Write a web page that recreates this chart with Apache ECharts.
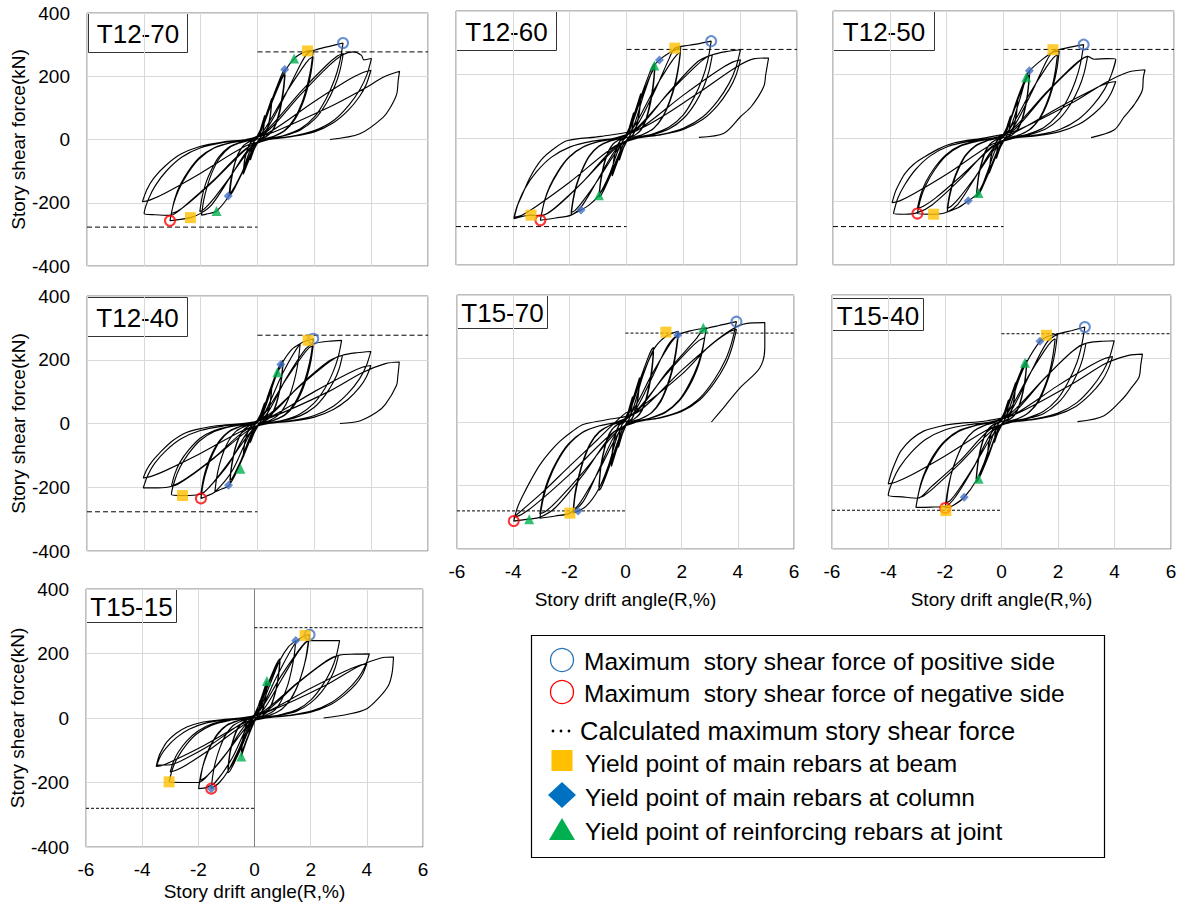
<!DOCTYPE html>
<html>
<head>
<meta charset="utf-8">
<title>Story shear force – story drift angle</title>
<script src="https://cdn.jsdelivr.net/npm/echarts@6/dist/echarts.min.js"></script>
<style>
  html, body { margin: 0; padding: 0; background: #fff; }
  #chart { width: 1185px; height: 906px; }
</style>
</head>
<body>
<div id="chart"></div>
<script>
// Specimen names, in drawing order
const panelNames = ['T12-70', 'T12-60', 'T12-50', 'T12-40', 'T15-70', 'T15-40', 'T15-15'];

// Axis ranges and tick steps
const xRange = [-6, 6], xStep = 2;
const yRange = [-400, 400], yStep = 200;

// Hysteresis loops: [drift angle R (%), story shear force (kN)]
const pathT1270 = [[0,0],
[0.12,37],[0.25,75],[0.23,45],[0.18,21],[0.11,6],[0.04,0],[-0.12,-32],[-0.25,-65],[-0.23,-39],[-0.18,-18],[-0.11,-5],[-0.04,0],
[0.25,65],[0.5,130],[0.45,78],[0.35,36],[0.23,10],[0.08,0],[-0.25,-55],[-0.5,-110],[-0.45,-66],[-0.35,-31],[-0.23,-9],[-0.08,0],
[0.25,60],[0.5,120],[0.45,72],[0.35,34],[0.23,10],[0.08,0],[-0.25,-52],[-0.5,-105],[-0.45,-63],[-0.35,-29],[-0.23,-8],[-0.08,0],
[0.1,22],[0.49,122],[0.78,190],[0.9,214],[0.97,221],[0.93,177],[0.87,137],[0.78,93],[0.65,53],[0.49,24],[0.29,9],[0.1,0],
[-0.1,-18],[-0.5,-98],[-0.8,-153],[-0.93,-173],[-1.0,-178],[-0.96,-142],[-0.9,-110],[-0.8,-75],[-0.67,-43],[-0.5,-20],[-0.3,-7],[-0.1,0],
[0.1,21],[0.49,113],[0.78,176],[0.9,199],[0.97,205],[0.93,164],[0.87,127],[0.78,86],[0.65,49],[0.49,23],[0.29,8],[0.1,0],
[-0.1,-17],[-0.49,-94],[-0.78,-146],[-0.9,-165],[-0.97,-170],[-0.93,-136],[-0.87,-105],[-0.78,-71],[-0.65,-41],[-0.49,-19],[-0.29,-7],[-0.1,0],
[0.1,22],[0.5,120],[0.9,205],[1.29,256],[1.7,278],[1.96,282],[1.88,226],[1.76,175],[1.57,118],[1.31,68],[0.98,31],[0.59,11],[0.2,0],
[-0.2,-25],[-0.55,-105],[-1.0,-178],[-1.44,-226],[-1.8,-236],[-1.97,-239],[-1.89,-191],[-1.77,-148],[-1.58,-100],[-1.32,-57],[-0.99,-26],[-0.59,-10],[-0.2,0],
[0.2,26],[0.98,144],[1.57,225],[1.82,254],[1.96,262],[1.88,210],[1.76,162],[1.57,110],[1.31,63],[0.98,29],[0.59,10],[0.2,0],
[-0.2,-23],[-1.02,-125],[-1.62,-196],[-1.89,-221],[-2.03,-228],[-1.95,-182],[-1.83,-141],[-1.62,-96],[-1.36,-55],[-1.02,-25],[-0.61,-9],[-0.2,0],
[0.3,30],[1.0,145],[1.5,235],[1.76,272],[2.1,285],[2.6,296],[3.01,305],[2.89,244],[2.71,189],[2.41,128],[2.02,73],[1.51,34],[0.9,12],[0.3,0],
[-0.3,-30],[-1.0,-125],[-1.6,-205],[-1.97,-232],[-2.36,-247],[-3.08,-257],[-2.96,-206],[-2.77,-159],[-2.46,-108],[-2.06,-62],[-1.54,-28],[-0.92,-10],[-0.31,0],
[0.3,27],[1.51,150],[2.42,234],[2.81,264],[3.02,272],[2.9,218],[2.72,169],[2.42,114],[2.02,65],[1.51,30],[0.91,11],[0.3,0],
[-0.3,-23],[-1.52,-129],[-2.42,-201],[-2.82,-227],[-3.03,-234],[-2.91,-187],[-2.73,-145],[-2.42,-98],[-2.03,-56],[-1.52,-26],[-0.91,-9],[-0.3,0],
[0.4,30],[1.5,140],[2.5,232],[3.0,268],[3.37,277],[3.66,266],[3.74,252],[4.01,256],[3.85,205],[3.61,159],[3.21,108],[2.69,61],[2.0,28],[1.2,10],[0.4,0],
[-0.4,-28],[-1.5,-125],[-2.5,-205],[-3.08,-240],[-3.6,-238],[-3.99,-234],[-3.83,-187],[-3.59,-145],[-3.19,-98],[-2.67,-56],[-2.0,-26],[-1.2,-9],[-0.4,0],
[0.4,22],[2.0,120],[3.19,188],[3.71,212],[3.99,219],[3.83,175],[3.59,136],[3.19,92],[2.67,53],[2.0,24],[1.2,9],[0.4,0],
[-0.4,-20],[-2.03,-108],[-3.24,-169],[-3.77,-191],[-4.05,-197],[-3.89,-158],[-3.65,-122],[-3.24,-83],[-2.71,-47],[-2.03,-22],[-1.22,-8],[-0.4,0],
[0.44,19],[1.5,60],[2.66,108],[3.84,165],[4.42,197],[5.0,216],[4.95,185],[4.9,144],[4.7,105],[4.42,70],[3.6,18],[2.55,0]];

const pathT1260 = [[0,0],
[0.12,40],[0.25,80],[0.23,48],[0.18,22],[0.11,6],[0.04,0],[-0.12,-35],[-0.25,-70],[-0.23,-42],[-0.18,-20],[-0.11,-6],[-0.04,0],
[0.25,70],[0.5,140],[0.45,84],[0.35,39],[0.23,11],[0.08,0],[-0.25,-60],[-0.5,-120],[-0.45,-72],[-0.35,-34],[-0.23,-10],[-0.08,0],
[0.25,65],[0.5,130],[0.45,78],[0.35,36],[0.23,10],[0.08,0],[-0.25,-57],[-0.5,-115],[-0.45,-69],[-0.35,-32],[-0.23,-9],[-0.08,0],
[0.1,24],[0.5,129],[0.8,202],[0.93,228],[1.0,235],[0.96,188],[0.9,146],[0.8,99],[0.67,56],[0.5,26],[0.3,9],[0.1,0],
[-0.1,-19],[-0.48,-102],[-0.77,-159],[-0.89,-179],[-0.96,-185],[-0.92,-148],[-0.86,-115],[-0.77,-78],[-0.64,-44],[-0.48,-20],[-0.29,-7],[-0.1,0],
[0.1,22],[0.5,121],[0.8,189],[0.93,213],[1.0,220],[0.96,176],[0.9,136],[0.8,92],[0.67,53],[0.5,24],[0.3,9],[0.1,0],
[-0.1,-18],[-0.48,-96],[-0.77,-151],[-0.89,-170],[-0.96,-175],[-0.92,-140],[-0.86,-109],[-0.77,-74],[-0.64,-42],[-0.48,-19],[-0.29,-7],[-0.1,0],
[0.2,25],[0.6,135],[0.98,228],[1.16,246],[1.5,268],[1.91,285],[1.83,228],[1.72,177],[1.53,120],[1.28,68],[0.96,31],[0.57,11],[0.19,0],
[-0.2,-22],[-0.6,-115],[-0.97,-180],[-1.3,-210],[-1.6,-227],[-1.95,-243],[-1.87,-194],[-1.76,-151],[-1.56,-102],[-1.31,-58],[-0.98,-27],[-0.59,-10],[-0.2,0],
[0.2,27],[0.95,149],[1.52,232],[1.77,262],[1.9,270],[1.82,216],[1.71,167],[1.52,113],[1.27,65],[0.95,30],[0.57,11],[0.19,0],
[-0.2,-23],[-0.98,-129],[-1.56,-202],[-1.81,-228],[-1.95,-235],[-1.87,-188],[-1.76,-146],[-1.56,-99],[-1.31,-56],[-0.98,-26],[-0.59,-9],[-0.2,0],
[0.3,30],[1.0,150],[1.5,250],[1.7,283],[2.2,292],[2.6,298],[2.98,305],[2.86,244],[2.68,189],[2.38,128],[2.0,73],[1.49,34],[0.89,12],[0.3,0],
[-0.3,-28],[-1.0,-130],[-1.6,-218],[-1.95,-243],[-2.5,-252],[-3.03,-259],[-2.91,-207],[-2.73,-161],[-2.42,-109],[-2.03,-62],[-1.52,-28],[-0.91,-10],[-0.3,0],
[0.3,26],[1.51,144],[2.42,225],[2.81,254],[3.02,262],[2.9,210],[2.72,162],[2.42,110],[2.02,63],[1.51,29],[0.91,10],[0.3,0],
[-0.3,-25],[-1.5,-135],[-2.4,-211],[-2.79,-238],[-3.0,-245],[-2.88,-196],[-2.7,-152],[-2.4,-103],[-2.01,-59],[-1.5,-27],[-0.9,-10],[-0.3,0],
[0.4,30],[1.5,145],[2.5,240],[3.02,262],[3.5,272],[4.01,278],[3.85,222],[3.61,172],[3.21,117],[2.69,67],[2.0,31],[1.2,11],[0.4,0],
[-0.4,-28],[-1.5,-135],[-2.5,-220],[-3.0,-245],[-3.36,-243],[-3.96,-254],[-3.8,-203],[-3.56,-157],[-3.17,-107],[-2.65,-61],[-1.98,-28],[-1.19,-10],[-0.4,0],
[0.4,25],[2.0,135],[3.21,212],[3.73,239],[4.01,246],[3.85,197],[3.61,153],[3.21,103],[2.69,59],[2.0,27],[1.2,10],[0.4,0],
[-0.4,-25],[-1.98,-138],[-3.17,-215],[-3.68,-243],[-3.96,-250],[-3.85,-215],[-3.7,-185],[-3.4,-125],[-3.0,-69],[-2.5,-30],[-2.07,-8],[-0.9,5],
[0.5,30],[2.5,140],[3.8,220],[4.5,250],[5.0,252],[4.9,200],[4.83,162],[4.4,100],[4.01,67],[3.43,15],[2.55,2]];

const pathT1250 = [[0,0],
[0.12,35],[0.25,70],[0.23,42],[0.18,20],[0.11,6],[0.04,0],[-0.12,-32],[-0.25,-65],[-0.23,-39],[-0.18,-18],[-0.11,-5],[-0.04,0],
[0.25,62],[0.5,125],[0.45,75],[0.35,35],[0.23,10],[0.08,0],[-0.25,-55],[-0.5,-110],[-0.45,-66],[-0.35,-31],[-0.23,-9],[-0.08,0],
[0.25,59],[0.5,118],[0.45,71],[0.35,33],[0.23,9],[0.08,0],[-0.25,-52],[-0.5,-105],[-0.45,-63],[-0.35,-29],[-0.23,-8],[-0.08,0],
[0.1,21],[0.46,117],[0.74,182],[0.86,206],[0.92,212],[0.88,170],[0.83,131],[0.74,89],[0.62,51],[0.46,23],[0.28,8],[0.09,0],
[-0.1,-19],[-0.48,-102],[-0.76,-159],[-0.88,-179],[-0.95,-185],[-0.91,-148],[-0.86,-115],[-0.76,-78],[-0.64,-44],[-0.48,-20],[-0.29,-7],[-0.1,0],
[0.1,20],[0.46,110],[0.74,172],[0.86,194],[0.92,200],[0.88,160],[0.83,124],[0.74,84],[0.62,48],[0.46,22],[0.28,8],[0.09,0],
[-0.1,-18],[-0.48,-96],[-0.76,-151],[-0.88,-170],[-0.95,-175],[-0.91,-140],[-0.86,-109],[-0.76,-74],[-0.64,-42],[-0.48,-19],[-0.29,-7],[-0.1,0],
[0.2,24],[0.55,115],[0.8,191],[0.92,212],[1.4,250],[1.74,270],[1.96,273],[1.88,218],[1.76,169],[1.57,115],[1.31,66],[0.98,30],[0.59,11],[0.2,0],
[-0.2,-22],[-0.6,-115],[-0.88,-173],[-1.24,-198],[-1.6,-220],[-1.98,-233],[-1.9,-186],[-1.78,-144],[-1.58,-98],[-1.33,-56],[-0.99,-26],[-0.59,-9],[-0.2,0],
[0.2,26],[0.95,144],[1.52,225],[1.77,254],[1.9,262],[1.82,210],[1.71,162],[1.52,110],[1.27,63],[0.95,29],[0.57,10],[0.19,0],
[-0.2,-22],[-0.99,-122],[-1.58,-191],[-1.84,-215],[-1.98,-222],[-1.9,-178],[-1.78,-138],[-1.58,-93],[-1.33,-53],[-0.99,-24],[-0.59,-9],[-0.2,0],
[0.3,28],[1.0,145],[1.5,240],[1.74,272],[2.2,283],[2.82,294],[2.71,235],[2.54,182],[2.26,123],[1.89,71],[1.41,32],[0.85,12],[0.28,0],
[-0.3,-26],[-1.0,-125],[-1.6,-208],[-1.98,-233],[-2.46,-240],[-3.03,-238],[-2.91,-190],[-2.73,-148],[-2.42,-100],[-2.03,-57],[-1.52,-26],[-0.91,-10],[-0.3,0],
[0.3,26],[1.48,141],[2.37,221],[2.75,249],[2.96,257],[2.84,206],[2.66,159],[2.37,108],[1.98,62],[1.48,28],[0.89,10],[0.3,0],
[-0.3,-22],[-1.52,-122],[-2.42,-191],[-2.82,-215],[-3.03,-222],[-2.91,-178],[-2.73,-138],[-2.42,-93],[-2.03,-53],[-1.52,-24],[-0.91,-9],[-0.3,0],
[0.4,28],[1.5,140],[2.5,228],[2.96,257],[3.19,248],[3.66,250],[3.95,248],[3.79,198],[3.56,154],[3.16,104],[2.65,60],[1.98,27],[1.19,10],[0.4,0],
[-0.4,-26],[-1.5,-128],[-2.5,-210],[-3.03,-235],[-3.5,-240],[-3.87,-238],[-3.72,-190],[-3.48,-148],[-3.1,-100],[-2.59,-57],[-1.94,-26],[-1.16,-10],[-0.39,0],
[0.4,18],[1.98,98],[3.16,153],[3.67,173],[3.95,178],[3.79,142],[3.56,110],[3.16,75],[2.65,43],[1.98,20],[1.19,7],[0.4,0],
[-0.4,-20],[-1.96,-112],[-3.14,-175],[-3.65,-198],[-3.92,-204],[-3.8,-168],[-3.65,-140],[-3.47,-112],[-3.15,-82],[-2.77,-59],[-2.3,-35],[-1.72,-15],[-0.55,2],
[0.5,25],[2.5,115],[3.6,175],[4.4,208],[4.98,215],[4.92,190],[4.89,152],[4.6,105],[4.25,67],[3.89,25],[3.08,1]];

const pathT1240 = [[0,0],
[0.12,32],[0.25,65],[0.23,39],[0.18,18],[0.11,5],[0.04,0],[-0.12,-30],[-0.25,-60],[-0.23,-36],[-0.18,-17],[-0.11,-5],[-0.04,0],
[0.25,57],[0.5,115],[0.45,69],[0.35,32],[0.23,9],[0.08,0],[-0.25,-52],[-0.5,-105],[-0.45,-63],[-0.35,-29],[-0.23,-8],[-0.08,0],
[0.25,54],[0.5,108],[0.45,65],[0.35,30],[0.23,9],[0.08,0],[-0.25,-50],[-0.5,-100],[-0.45,-60],[-0.35,-28],[-0.23,-8],[-0.08,0],
[0.1,20],[0.45,109],[0.72,170],[0.84,192],[0.9,198],[0.86,158],[0.81,123],[0.72,83],[0.6,48],[0.45,22],[0.27,8],[0.09,0],
[-0.1,-19],[-0.49,-102],[-0.78,-160],[-0.9,-180],[-0.97,-186],[-0.93,-149],[-0.87,-115],[-0.78,-78],[-0.65,-45],[-0.49,-20],[-0.29,-7],[-0.1,0],
[0.1,19],[0.45,103],[0.72,162],[0.84,182],[0.9,188],[0.86,150],[0.81,117],[0.72,79],[0.6,45],[0.45,21],[0.27,8],[0.09,0],
[-0.1,-18],[-0.49,-98],[-0.78,-153],[-0.9,-173],[-0.97,-178],[-0.93,-142],[-0.87,-110],[-0.78,-75],[-0.65,-43],[-0.49,-20],[-0.29,-7],[-0.1,0],
[0.15,22],[0.7,161],[0.9,195],[1.2,232],[1.5,250],[1.44,200],[1.35,155],[1.2,105],[1.0,60],[0.75,28],[0.45,10],[0.15,0],
[-0.15,-20],[-0.6,-120],[-1.0,-194],[-1.3,-207],[-1.5,-215],[-1.44,-172],[-1.35,-133],[-1.2,-90],[-1.0,-52],[-0.75,-24],[-0.45,-9],[-0.15,0],
[0.2,24],[0.9,160],[1.5,250],[1.78,261],[1.96,266],[1.88,213],[1.76,165],[1.57,112],[1.31,64],[0.98,29],[0.59,11],[0.2,0],
[-0.2,-22],[-0.9,-150],[-1.5,-215],[-1.8,-228],[-1.99,-235],[-1.91,-188],[-1.79,-146],[-1.59,-99],[-1.33,-56],[-1.0,-26],[-0.6,-9],[-0.2,0],
[0.2,25],[0.98,135],[1.57,211],[1.82,238],[1.96,245],[1.88,196],[1.76,152],[1.57,103],[1.31,59],[0.98,27],[0.59,10],[0.2,0],
[-0.2,-22],[-1.0,-121],[-1.59,-189],[-1.85,-213],[-1.99,-220],[-1.91,-176],[-1.79,-136],[-1.59,-92],[-1.33,-53],[-1.0,-24],[-0.6,-9],[-0.2,0],
[0.3,26],[1.0,140],[1.7,235],[1.96,250],[2.5,258],[2.96,261],[2.84,209],[2.66,162],[2.37,110],[1.98,63],[1.48,29],[0.89,10],[0.3,0],
[-0.3,-22],[-1.0,-125],[-1.7,-200],[-1.99,-222],[-2.64,-226],[-3.03,-223],[-2.91,-178],[-2.73,-138],[-2.42,-94],[-2.03,-54],[-1.52,-25],[-0.91,-9],[-0.3,0],
[0.3,21],[1.5,118],[2.39,184],[2.78,208],[2.99,214],[2.87,171],[2.69,133],[2.39,90],[2.0,51],[1.5,24],[0.9,9],[0.3,0],
[-0.3,-20],[-1.52,-108],[-2.42,-169],[-2.82,-191],[-3.03,-197],[-2.91,-158],[-2.73,-122],[-2.42,-83],[-2.03,-47],[-1.52,-22],[-0.91,-8],[-0.3,0],
[0.4,23],[1.5,120],[2.5,195],[2.99,214],[3.5,222],[3.99,226],[3.83,181],[3.59,140],[3.19,95],[2.67,54],[2.0,25],[1.2,9],[0.4,0],
[-0.4,-20],[-1.5,-105],[-2.5,-172],[-3.03,-197],[-3.5,-202],[-4.02,-202],[-3.86,-162],[-3.62,-125],[-3.22,-85],[-2.69,-48],[-2.01,-22],[-1.21,-8],[-0.4,0],
[0.4,18],[2.0,100],[3.19,157],[3.71,177],[3.99,182],[3.83,146],[3.59,113],[3.19,76],[2.67,44],[2.0,20],[1.2,7],[0.4,0],
[-0.4,-17],[-2.01,-94],[-3.22,-147],[-3.74,-166],[-4.02,-171],[-3.9,-145],[-3.7,-118],[-3.44,-92],[-3.0,-55],[-2.5,-28],[-1.9,-14],[-1.44,-7],[-0.27,3],
[0.5,20],[2.5,100],[3.7,160],[4.5,188],[4.99,193],[4.94,150],[4.89,119],[4.5,60],[4.19,35],[3.6,8],[2.9,0]];

const pathT1570 = [[0,0],
[0.12,40],[0.25,80],[0.23,48],[0.18,22],[0.11,6],[0.04,0],[-0.12,-40],[-0.25,-80],[-0.23,-48],[-0.18,-22],[-0.11,-6],[-0.04,0],
[0.25,70],[0.5,140],[0.45,84],[0.35,39],[0.23,11],[0.08,0],[-0.25,-70],[-0.5,-140],[-0.45,-84],[-0.35,-39],[-0.23,-11],[-0.08,0],
[0.25,65],[0.5,130],[0.45,78],[0.35,36],[0.23,10],[0.08,0],[-0.25,-65],[-0.5,-130],[-0.45,-78],[-0.35,-36],[-0.23,-10],[-0.08,0],
[0.1,24],[0.5,129],[0.8,202],[0.93,228],[1.0,235],[0.96,188],[0.9,146],[0.8,99],[0.67,56],[0.5,26],[0.3,9],[0.1,0],
[-0.1,-22],[-0.48,-118],[-0.76,-185],[-0.88,-209],[-0.95,-215],[-0.91,-172],[-0.86,-133],[-0.76,-90],[-0.64,-52],[-0.48,-24],[-0.29,-9],[-0.1,0],
[0.1,22],[0.5,121],[0.8,189],[0.93,213],[1.0,220],[0.96,176],[0.9,136],[0.8,92],[0.67,53],[0.5,24],[0.3,9],[0.1,0],
[-0.1,-21],[-0.48,-113],[-0.76,-176],[-0.88,-199],[-0.95,-205],[-0.91,-164],[-0.86,-127],[-0.76,-86],[-0.64,-49],[-0.48,-23],[-0.29,-8],[-0.1,0],
[0.2,25],[0.6,140],[1.0,228],[1.44,270],[1.88,286],[1.8,229],[1.69,177],[1.5,120],[1.26,69],[0.94,31],[0.56,11],[0.19,0],
[-0.2,-25],[-0.6,-135],[-0.95,-210],[-1.4,-265],[-1.86,-287],[-1.79,-230],[-1.67,-178],[-1.49,-121],[-1.25,-69],[-0.93,-32],[-0.56,-11],[-0.19,0],
[0.2,27],[0.94,150],[1.5,234],[1.75,264],[1.88,272],[1.8,218],[1.69,169],[1.5,114],[1.26,65],[0.94,30],[0.56,11],[0.19,0],
[-0.2,-28],[-0.93,-151],[-1.49,-237],[-1.73,-267],[-1.86,-275],[-1.79,-220],[-1.67,-171],[-1.49,-116],[-1.25,-66],[-0.93,-30],[-0.56,-11],[-0.19,0],
[0.3,30],[1.0,150],[1.5,240],[1.86,274],[2.3,287],[2.88,297],[2.76,238],[2.59,184],[2.3,125],[1.93,71],[1.44,33],[0.86,12],[0.29,0],
[-0.3,-30],[-1.0,-160],[-1.5,-250],[-1.98,-287],[-2.5,-296],[-3.05,-303],[-2.93,-242],[-2.75,-188],[-2.44,-127],[-2.04,-73],[-1.53,-33],[-0.92,-12],[-0.31,0],
[0.3,27],[1.41,146],[2.26,228],[2.62,257],[2.82,265],[2.71,212],[2.54,164],[2.26,111],[1.89,64],[1.41,29],[0.85,11],[0.28,0],
[-0.3,-29],[-1.53,-160],[-2.44,-249],[-2.84,-281],[-3.05,-290],[-2.93,-232],[-2.75,-180],[-2.44,-122],[-2.04,-70],[-1.53,-32],[-0.92,-12],[-0.31,0],
[0.4,32],[1.5,160],[2.5,260],[2.77,290],[3.3,303],[3.95,316],[3.79,253],[3.56,196],[3.16,133],[2.65,76],[1.98,35],[1.19,13],[0.4,0],
[-0.4,-31],[-1.5,-165],[-2.5,-270],[-3.05,-300],[-3.43,-306],[-3.98,-312],[-3.85,-270],[-3.64,-229],[-3.35,-180],[-3.05,-135],[-2.7,-95],[-2.34,-61],[-1.9,-30],[-1.51,-8],[-0.68,7],
[0.4,29],[1.98,161],[3.16,251],[3.67,283],[3.95,292],[3.79,234],[3.56,181],[3.16,123],[2.65,70],[1.98,32],[1.19,12],[0.4,0],
[-0.4,-30],[-1.99,-165],[-3.18,-258],[-3.7,-291],[-3.98,-300],[-3.0,-225],[-2.0,-140],[-1.0,-56],[0.0,28],
[0.5,45],[2.0,150],[3.0,240],[3.95,300],[4.5,312],[4.96,313],[4.96,234],[4.78,170],[4.07,107],[3.48,44],[3.06,0]];

const pathT1540 = [[0,0],
[0.12,35],[0.25,70],[0.23,42],[0.18,20],[0.11,6],[0.04,0],[-0.12,-32],[-0.25,-65],[-0.23,-39],[-0.18,-18],[-0.11,-5],[-0.04,0],
[0.25,62],[0.5,125],[0.45,75],[0.35,35],[0.23,10],[0.08,0],[-0.25,-57],[-0.5,-115],[-0.45,-69],[-0.35,-32],[-0.23,-9],[-0.08,0],
[0.25,59],[0.5,118],[0.45,71],[0.35,33],[0.23,9],[0.08,0],[-0.25,-55],[-0.5,-110],[-0.45,-66],[-0.35,-31],[-0.23,-9],[-0.08,0],
[0.1,20],[0.45,107],[0.72,168],[0.84,189],[0.9,195],[0.86,156],[0.81,121],[0.72,82],[0.6,47],[0.45,21],[0.27,8],[0.09,0],
[-0.1,-19],[-0.45,-105],[-0.72,-163],[-0.84,-184],[-0.9,-190],[-0.86,-152],[-0.81,-118],[-0.72,-80],[-0.6,-46],[-0.45,-21],[-0.27,-8],[-0.09,0],
[0.1,19],[0.45,102],[0.72,159],[0.84,179],[0.9,185],[0.86,148],[0.81,115],[0.72,78],[0.6,44],[0.45,20],[0.27,7],[0.09,0],
[-0.1,-18],[-0.45,-99],[-0.72,-155],[-0.84,-175],[-0.9,-180],[-0.86,-144],[-0.81,-112],[-0.72,-76],[-0.6,-43],[-0.45,-20],[-0.27,-7],[-0.09,0],
[0.2,25],[0.6,130],[0.9,190],[1.36,254],[1.59,268],[1.98,278],[1.9,222],[1.78,172],[1.58,117],[1.33,67],[0.99,31],[0.59,11],[0.2,0],
[-0.2,-22],[-0.6,-125],[-0.9,-185],[-1.32,-237],[-1.7,-262],[-1.99,-271],[-1.91,-217],[-1.79,-168],[-1.59,-114],[-1.33,-65],[-1.0,-30],[-0.6,-11],[-0.2,0],
[0.2,26],[0.95,144],[1.52,225],[1.77,254],[1.9,262],[1.82,210],[1.71,162],[1.52,110],[1.27,63],[0.95,29],[0.57,10],[0.19,0],
[-0.2,-26],[-0.98,-140],[-1.56,-219],[-1.81,-247],[-1.95,-255],[-1.87,-204],[-1.76,-158],[-1.56,-107],[-1.31,-61],[-0.98,-28],[-0.59,-10],[-0.2,0],
[0.3,30],[1.0,150],[1.6,250],[1.98,276],[2.5,288],[2.95,299],[2.83,239],[2.66,185],[2.36,126],[1.98,72],[1.48,33],[0.89,12],[0.3,0],
[-0.3,-27],[-1.0,-145],[-1.6,-232],[-1.99,-266],[-2.5,-268],[-3.03,-269],[-2.91,-215],[-2.73,-167],[-2.42,-113],[-2.03,-65],[-1.52,-30],[-0.91,-11],[-0.3,0],
[0.3,25],[1.5,136],[2.39,213],[2.78,241],[2.99,248],[2.87,198],[2.69,154],[2.39,104],[2.0,60],[1.5,27],[0.9,10],[0.3,0],
[-0.3,-24],[-1.49,-132],[-2.38,-206],[-2.76,-233],[-2.97,-240],[-2.85,-192],[-2.67,-149],[-2.38,-101],[-1.99,-58],[-1.49,-26],[-0.89,-10],[-0.3,0],
[0.4,26],[1.5,135],[2.5,222],[2.99,248],[3.5,254],[3.99,256],[3.83,205],[3.59,159],[3.19,108],[2.67,61],[2.0,28],[1.2,10],[0.4,0],
[-0.4,-23],[-1.5,-125],[-2.5,-205],[-2.97,-240],[-3.5,-236],[-4.01,-231],[-3.85,-185],[-3.61,-143],[-3.21,-97],[-2.69,-55],[-2.01,-25],[-1.2,-9],[-0.4,0],
[0.4,21],[1.97,113],[3.14,177],[3.65,200],[3.93,206],[3.77,165],[3.54,128],[3.14,87],[2.63,49],[1.97,23],[1.18,8],[0.39,0],
[-0.4,-20],[-2.0,-107],[-3.21,-168],[-3.73,-189],[-4.01,-195],[-3.9,-160],[-3.75,-125],[-3.56,-91],[-3.2,-55],[-2.74,-28],[-2.2,-14],[-1.68,-6],[-0.5,4],
[0.5,25],[2.5,120],[3.7,185],[4.5,210],[4.99,214],[4.93,180],[4.87,142],[4.6,108],[4.34,78],[3.63,20],[2.69,1]];

const pathT1515 = [[0,0],
[0.1,27],[0.2,55],[0.18,33],[0.14,15],[0.09,4],[0.03,0],[-0.1,-25],[-0.2,-50],[-0.18,-30],[-0.14,-14],[-0.09,-4],[-0.03,0],
[0.22,57],[0.44,115],[0.4,69],[0.31,32],[0.2,9],[0.07,0],[-0.23,-59],[-0.47,-119],[-0.42,-71],[-0.33,-33],[-0.21,-10],[-0.07,0],
[0.22,54],[0.44,108],[0.4,65],[0.31,30],[0.2,9],[0.07,0],[-0.23,-56],[-0.47,-112],[-0.42,-67],[-0.33,-31],[-0.21,-9],[-0.07,0],
[0.1,18],[0.46,101],[0.73,158],[0.85,178],[0.91,184],[0.87,147],[0.82,114],[0.73,77],[0.61,44],[0.46,20],[0.27,7],[0.09,0],
[-0.1,-17],[-0.48,-94],[-0.76,-146],[-0.88,-165],[-0.95,-170],[-0.91,-136],[-0.86,-105],[-0.76,-71],[-0.64,-41],[-0.48,-19],[-0.29,-7],[-0.1,0],
[0.1,18],[0.46,96],[0.73,151],[0.85,170],[0.91,175],[0.87,140],[0.82,109],[0.73,74],[0.61,42],[0.46,19],[0.27,7],[0.09,0],
[-0.1,-16],[-0.48,-88],[-0.76,-138],[-0.88,-155],[-0.95,-160],[-0.91,-128],[-0.86,-99],[-0.76,-67],[-0.64,-38],[-0.48,-18],[-0.29,-6],[-0.1,0],
[0.15,20],[0.6,115],[0.91,180],[1.2,220],[1.47,240],[1.41,192],[1.32,149],[1.18,101],[0.98,58],[0.74,26],[0.44,10],[0.15,0],
[-0.15,-18],[-0.6,-105],[-0.95,-165],[-1.25,-200],[-1.54,-219],[-1.48,-175],[-1.39,-136],[-1.23,-92],[-1.03,-53],[-0.77,-24],[-0.46,-9],[-0.15,0],
[0.2,24],[0.8,130],[1.47,235],[1.8,256],[1.96,258],[1.88,206],[1.76,160],[1.57,108],[1.31,62],[0.98,28],[0.59,10],[0.2,0],
[-0.2,-20],[-0.8,-125],[-1.4,-200],[-1.7,-215],[-1.99,-219],[-1.91,-175],[-1.79,-136],[-1.59,-92],[-1.33,-53],[-1.0,-24],[-0.6,-9],[-0.2,0],
[0.2,24],[0.96,132],[1.54,206],[1.79,233],[1.92,240],[1.84,192],[1.73,149],[1.54,101],[1.29,58],[0.96,26],[0.58,10],[0.19,0],
[-0.2,-19],[-0.97,-106],[-1.54,-166],[-1.79,-187],[-1.93,-193],[-1.85,-154],[-1.74,-120],[-1.54,-81],[-1.29,-46],[-0.97,-21],[-0.58,-8],[-0.19,0],
[0.3,24],[1.0,125],[1.6,210],[1.96,240],[2.5,240],[3.03,240],[2.91,192],[2.73,149],[2.42,101],[2.03,58],[1.52,26],[0.91,10],[0.3,0],
[-0.3,-20],[-1.0,-110],[-1.6,-172],[-1.99,-200],[-2.5,-200],[-3.04,-198],[-2.92,-158],[-2.74,-123],[-2.43,-83],[-2.04,-48],[-1.52,-22],[-0.91,-8],[-0.3,0],
[0.3,19],[1.5,107],[2.39,167],[2.78,188],[2.99,194],[2.87,155],[2.69,120],[2.39,81],[2.0,47],[1.5,21],[0.9,8],[0.3,0],
[-0.3,-17],[-1.5,-92],[-2.4,-144],[-2.79,-162],[-3.0,-167],[-2.88,-134],[-2.7,-104],[-2.4,-70],[-2.01,-40],[-1.5,-18],[-0.9,-7],[-0.3,0],
[0.4,20],[1.5,105],[2.5,172],[3.03,195],[3.6,198],[4.09,199],[3.93,159],[3.68,123],[3.27,84],[2.74,48],[2.05,22],[1.23,8],[0.41,0],
[-0.4,-15],[-1.5,-80],[-2.5,-128],[-3.0,-145],[-3.48,-146],[-3.34,-117],[-3.13,-91],[-2.78,-61],[-2.33,-35],[-1.74,-16],[-1.04,-6],[-0.35,0],
[0.4,17],[2.0,92],[3.2,144],[3.72,163],[4.0,168],[3.84,134],[3.6,104],[3.2,71],[2.68,40],[2.0,18],[1.2,7],[0.4,0],
[-0.35,-15],[-1.75,-83],[-2.8,-129],[-3.26,-146],[-3.5,-150],[-3.4,-118],[-3.25,-92],[-3.12,-74],[-2.8,-48],[-2.41,-28],[-1.9,-14],[-1.34,-7],[-0.27,3],
[0.5,20],[2.5,100],[3.7,160],[4.5,186],[4.95,189],[4.9,140],[4.77,101],[4.4,60],[4.0,29],[3.41,13],[2.46,0]];

const paths = [pathT1270, pathT1260, pathT1250, pathT1240, pathT1570, pathT1540, pathT1515];

// Maximum story shear force, positive and negative side
const maxPositive = [[3.01,305],[2.98,305],[2.82,294],[1.96,266],[3.95,316],[2.95,299],[1.96,258]];
const maxNegative = [[-3.08,-257],[-3.03,-259],[-3.03,-238],[-1.99,-235],[-3.98,-312],[-1.99,-271],[-1.54,-219]];
// Yield points: [positive side, negative side]
const yieldBeam   = [[[1.76,280],[-2.36,-247]],[[1.70,283],[-3.36,-243]],[[1.74,278],[-2.46,-240]],[[1.78,261],[-2.64,-226]],[[1.44,283],[-1.98,-287]],[[1.59,273],[-1.97,-279]],[[1.80,256],[-3.04,-198]]];
const yieldColumn = [[[0.96,221],[-1.03,-179]],[[1.16,246],[-1.60,-227]],[[0.91,212],[-1.24,-198]],[[0.82,185],[-1.02,-194]],[[1.86,274],[-1.69,-280]],[[1.36,254],[-1.32,-237]],[[1.47,240],[-1.54,-219]]];
const yieldJoint  = [[[1.29,256],[-1.44,-226]],[[0.98,228],[-0.97,-180]],[[0.80,191],[-0.88,-173]],[[0.70,161],[-0.60,-142]],[[2.77,297],[-3.43,-306]],[[0.83,187],[-0.81,-179]],[[0.44,115],[-0.47,-119]]];
// Calculated maximum story shear force (kN)
const calcMax = [277, 279, 279, 277, 280, 278, 280];

const legendItems = [
  'Maximum  story shear force of positive side',
  'Maximum  story shear force of negative side',
  'Calculated maximum story shear force',
  'Yield point of main rebars at beam',
  'Yield point of main rebars at column',
  'Yield point of reinforcing rebars at joint'
];

// ---- layout ----
const FONT = '"Liberation Sans", Arial, sans-serif';
const plotBoxes = [
  { left: 87,  top: 13,  width: 341, height: 253 },
  { left: 456, top: 11,  width: 341, height: 254 },
  { left: 833, top: 11,  width: 341, height: 254 },
  { left: 87,  top: 296, width: 341, height: 255 },
  { left: 457, top: 295, width: 337, height: 254 },
  { left: 832, top: 295, width: 339, height: 254 },
  { left: 86,  top: 589, width: 337, height: 258 }
];
const tagBoxes = [[88,13,99,39],[456,11,100,39],[833,11,101,39],[87,297,100,39],[457,295,90,33],[832,298,91,32],[86,589,90,33]];
const showY = [true, false, false, true, false, false, true];
const showX = [false, false, false, false, true, true, true];
const xNameGap = [0, 0, 0, 0, 41, 41, 35];
const dashPattern = [[5,3],[5,3],[5,3],[5,3],[3,2],[3,2],[3,2]];

const COLOR = { blue: '#4472c4', red: '#ff0000', yellow: '#ffc000', green: '#00b050' };

const option = {
  animation: false,
  backgroundColor: '#ffffff',
  grid: [], xAxis: [], yAxis: [], series: [], graphic: []
};

panelNames.forEach((name, i) => {
  option.grid.push(Object.assign({
    show: true, borderColor: '#7f7f7f', borderWidth: 1,
    containLabel: false, outerBoundsMode: 'none'
  }, plotBoxes[i]));

  option.xAxis.push({
    gridIndex: i, type: 'value', min: xRange[0], max: xRange[1], interval: xStep,
    axisLine: { show: false }, axisTick: { show: false },
    splitLine: { show: true, lineStyle: { color: '#d9d9d9', width: 1 } },
    axisLabel: { show: showX[i], margin: 13, fontSize: 19, color: '#000', fontFamily: FONT },
    name: showX[i] ? 'Story drift angle(R,%)' : '',
    nameLocation: 'middle', nameGap: xNameGap[i],
    nameTextStyle: { fontSize: 19, color: '#000', fontFamily: FONT }
  });

  option.yAxis.push({
    gridIndex: i, type: 'value', min: yRange[0], max: yRange[1], interval: yStep,
    axisLine: { show: false }, axisTick: { show: false },
    splitLine: { show: true, lineStyle: { color: '#d9d9d9', width: 1 } },
    axisLabel: { show: showY[i], margin: 17, fontSize: 19, color: '#000', fontFamily: FONT },
    name: showY[i] ? 'Story shear force(kN)' : '',
    nameLocation: 'middle', nameGap: 56, nameRotate: 90,
    nameTextStyle: { fontSize: 19, color: '#000', fontFamily: FONT }
  });

  const hyst = {
    type: 'line', xAxisIndex: i, yAxisIndex: i, data: paths[i],
    showSymbol: false, symbol: 'none', smooth: 0.3, z: 3,
    lineStyle: { color: '#000', width: 1.15 }
  };
  if (name === 'T15-15') {
    hyst.markLine = {
      silent: true, symbol: 'none', label: { show: false }, z: 1,
      lineStyle: { color: '#7f7f7f', type: 'solid', width: 1 },
      data: [{ xAxis: 0 }]
    };
  }
  option.series.push(hyst);

  const dash = { color: '#000', width: 1, type: dashPattern[i] };
  option.series.push({
    type: 'line', xAxisIndex: i, yAxisIndex: i, symbol: 'none', z: 2,
    data: [[0, calcMax[i]], [xRange[1], calcMax[i]]], lineStyle: dash
  });
  option.series.push({
    type: 'line', xAxisIndex: i, yAxisIndex: i, symbol: 'none', z: 2,
    data: [[xRange[0], -calcMax[i]], [0, -calcMax[i]]], lineStyle: dash
  });

  const sc = (data, symbol, size, itemStyle) => ({
    type: 'scatter', xAxisIndex: i, yAxisIndex: i, data, symbol, symbolSize: size, z: 5, itemStyle
  });
  option.series.push(sc([maxPositive[i]], 'circle', 10, { color: 'rgba(0,0,0,0)', borderColor: COLOR.blue, borderWidth: 2 }));
  option.series.push(sc([maxNegative[i]], 'circle', 10, { color: 'rgba(0,0,0,0)', borderColor: COLOR.red, borderWidth: 2 }));
  option.series.push(sc(yieldBeam[i], 'rect', 11, { color: COLOR.yellow }));
  option.series.push(sc(yieldColumn[i], 'diamond', 9, { color: COLOR.blue }));
  option.series.push(sc(yieldJoint[i], 'triangle', 10, { color: COLOR.green }));

  // specimen tag
  const b = tagBoxes[i];
  option.graphic.push({
    type: 'group', z: 20, children: [
      { type: 'rect', shape: { x: b[0] + 0.5, y: b[1] + 0.5, width: b[2], height: b[3] },
        style: { fill: '#fff', stroke: '#333', lineWidth: 1 } },
      { type: 'text', x: b[0] + b[2] / 2 + 0.5, y: b[1] + b[3] / 2 + 1.5,
        style: { text: name, font: '26px ' + FONT, fill: '#000',
                 align: 'center', verticalAlign: 'middle', textAlign: 'center', textVerticalAlign: 'middle' } }
    ]
  });
});

// legend box
const legendRows = [660, 692, 730, 762, 796, 830];
const legendTextX = [584, 584, 580, 585, 585, 585];
const legendFont = ['24.5px ', '24.5px ', '25.5px ', '24.5px ', '24.5px ', '24.5px '];
const legendChildren = [
  { type: 'rect', shape: { x: 531.5, y: 635.5, width: 573, height: 222 },
    style: { fill: '#fff', stroke: '#000', lineWidth: 1.2 } },
  { type: 'circle', shape: { cx: 562, cy: legendRows[0], r: 11.5 }, style: { fill: 'none', stroke: '#2e75b6', lineWidth: 1.3 } },
  { type: 'circle', shape: { cx: 562, cy: legendRows[1], r: 11.5 }, style: { fill: 'none', stroke: '#ff0000', lineWidth: 1.3 } },
  { type: 'circle', shape: { cx: 553, cy: legendRows[2] + 1, r: 1.4 }, style: { fill: '#000' } },
  { type: 'circle', shape: { cx: 561, cy: legendRows[2] + 1, r: 1.4 }, style: { fill: '#000' } },
  { type: 'circle', shape: { cx: 569, cy: legendRows[2] + 1, r: 1.4 }, style: { fill: '#000' } },
  { type: 'rect', shape: { x: 551.5, y: 750, width: 21, height: 21 }, style: { fill: COLOR.yellow } },
  { type: 'polygon', shape: { points: [[562,782],[576,795],[562,808],[548,795]] }, style: { fill: '#0070c0' } },
  { type: 'polygon', shape: { points: [[562,818],[575,840],[549,840]] }, style: { fill: COLOR.green } }
];
legendItems.forEach((t, k) => {
  legendChildren.push({
    type: 'text', x: legendTextX[k], y: legendRows[k] + 1,
    style: { text: t, font: legendFont[k] + FONT, fill: '#000',
             align: 'left', verticalAlign: 'middle', textAlign: 'left', textVerticalAlign: 'middle' }
  });
});
option.graphic.push({ type: 'group', z: 20, children: legendChildren });

const chart = echarts.init(document.getElementById('chart'), null, { renderer: 'svg' });
chart.setOption(option);
</script>
</body>
</html>
